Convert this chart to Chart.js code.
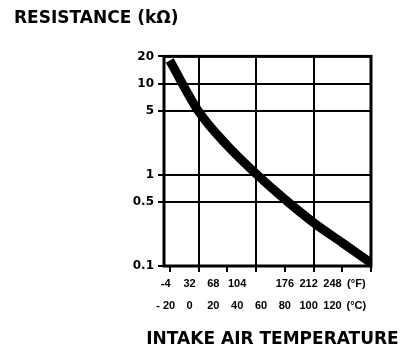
<!DOCTYPE html>
<html>
<head>
<meta charset="utf-8">
<script src="https://cdn.jsdelivr.net/npm/chart.js@4/dist/chart.umd.min.js"></script>
<style>
  html, body { margin: 0; padding: 0; background: #fff; }
  #wrap { width: 401px; height: 352px; position: relative; }
</style>
</head>
<body>
<div id="wrap"><canvas id="c"></canvas></div>
<script>
// Intake air temperature sensor: resistance (kΩ) against temperature (°C)
const tempC = [-20, 0, 20, 40, 60, 80, 100, 120];
const resistance = [18, 5.0, 2.1, 1.03, 0.54, 0.3, 0.18, 0.108];

// Resistance axis
const yTicks = [0.1, 0.5, 1, 5, 10, 20];
const yLabels = ['0.1', '0.5', '1', '5', '10', '20'];
const yGridValues = [0.5, 1, 5, 10];

// Temperature axis tick marks and grid lines
const xTicks = [-20, 0, 20, 40, 60, 80, 100, 120];
const xGridValues = [0, 40, 80];

// Printed scale columns: Fahrenheit row above Celsius row
const labelColumns = [-20, 0, 20, 40, 60, 80, 100, 120, 140];
const fahrenheitLabels = ['-4', '32', '68', '104', '', '176', '212', '248', '(°F)'];
const celsiusLabels = ['- 20', '0', '20', '40', '60', '80', '100', '120', '(°C)'];

const xTitle = 'INTAKE AIR TEMPERATURE';

const INK = '#000';
const NONE = 'rgba(0,0,0,0)';

// Heavy frame round the plot area
const framePlugin = {
  id: 'frame',
  beforeDatasetsDraw(chart) {
    const { ctx, chartArea: a } = chart;
    ctx.save();
    ctx.strokeStyle = INK;
    ctx.lineWidth = 3;
    ctx.strokeRect(a.left, a.top, a.right - a.left, a.bottom - a.top);
    ctx.restore();
  }
};

// Axis caption under the two temperature rows, at its natural width
const captionPlugin = {
  id: 'caption',
  afterDraw(chart) {
    const { ctx, chartArea: a } = chart;
    ctx.save();
    ctx.fillStyle = INK;
    ctx.font = 'bold 17px "DejaVu Sans"';
    ctx.textAlign = 'center';
    ctx.textBaseline = 'middle';
    ctx.fillText(xTitle, (a.left + a.right) / 2 + 5, a.bottom + 74);
    ctx.restore();
  }
};

new Chart(document.getElementById('c'), {
  type: 'line',
  data: {
    datasets: [{
      data: tempC.map((t, i) => ({ x: t, y: resistance[i] })),
      borderColor: INK,
      borderWidth: 9,
      borderCapStyle: 'butt',
      pointRadius: 0,
      tension: 0.4,
      cubicInterpolationMode: 'monotone',
      fill: false
    }]
  },
  options: {
    responsive: true,
    maintainAspectRatio: false,
    animation: false,
    layout: { padding: { left: 14, right: 30, top: 0, bottom: 2 } },
    plugins: {
      legend: { display: false },
      tooltip: { enabled: false },
      title: {
        display: true,
        text: 'RESISTANCE (kΩ)',
        align: 'start',
        color: INK,
        font: { family: 'DejaVu Sans', weight: 'bold', size: 17 },
        padding: { top: 8, bottom: 28 }
      }
    },
    scales: {
      x: {
        type: 'linear',
        position: 'bottom',
        weight: 0,
        min: -24,
        max: 120,
        afterBuildTicks: s => { s.ticks = xTicks.map(v => ({ value: v })); },
        afterFit: s => { s.height = 6; },
        ticks: { display: false },
        grid: {
          color: c => (c.tick && xGridValues.includes(c.tick.value)) ? INK : NONE,
          lineWidth: 2,
          drawTicks: true,
          tickLength: 6,
          tickColor: INK,
          tickWidth: 2
        },
        border: { display: false }
      },
      xt: {
        type: 'linear',
        axis: 'x',
        position: 'bottom',
        weight: 1,
        min: -21.4,
        max: 152.3,
        afterBuildTicks: s => { s.ticks = labelColumns.map(v => ({ value: v })); },
        afterFit: s => { s.height = 78; },
        grid: { display: false, drawTicks: false },
        border: { display: false },
        ticks: {
          color: INK,
          padding: 1,
          maxRotation: 0,
          autoSkip: false,
          font: { family: 'Liberation Sans', weight: 'bold', size: 11, lineHeight: 2 },
          callback: (v, i) => [fahrenheitLabels[i], celsiusLabels[i]]
        }
      },
      y: {
        type: 'logarithmic',
        min: 0.1,
        max: 20,
        afterBuildTicks: s => { s.ticks = yTicks.map(v => ({ value: v })); },
        afterFit: s => { s.width = 150; },
        ticks: {
          color: INK,
          padding: 4,
          font: { family: 'DejaVu Sans', weight: 'bold', size: 12 },
          callback: (v, i) => yLabels[i]
        },
        grid: {
          color: c => (c.tick && yGridValues.includes(c.tick.value)) ? INK : NONE,
          lineWidth: 2,
          drawTicks: true,
          tickLength: 6,
          tickColor: INK,
          tickWidth: 2
        },
        border: { display: false }
      }
    }
  },
  plugins: [framePlugin, captionPlugin]
});
</script>
</body>
</html>
